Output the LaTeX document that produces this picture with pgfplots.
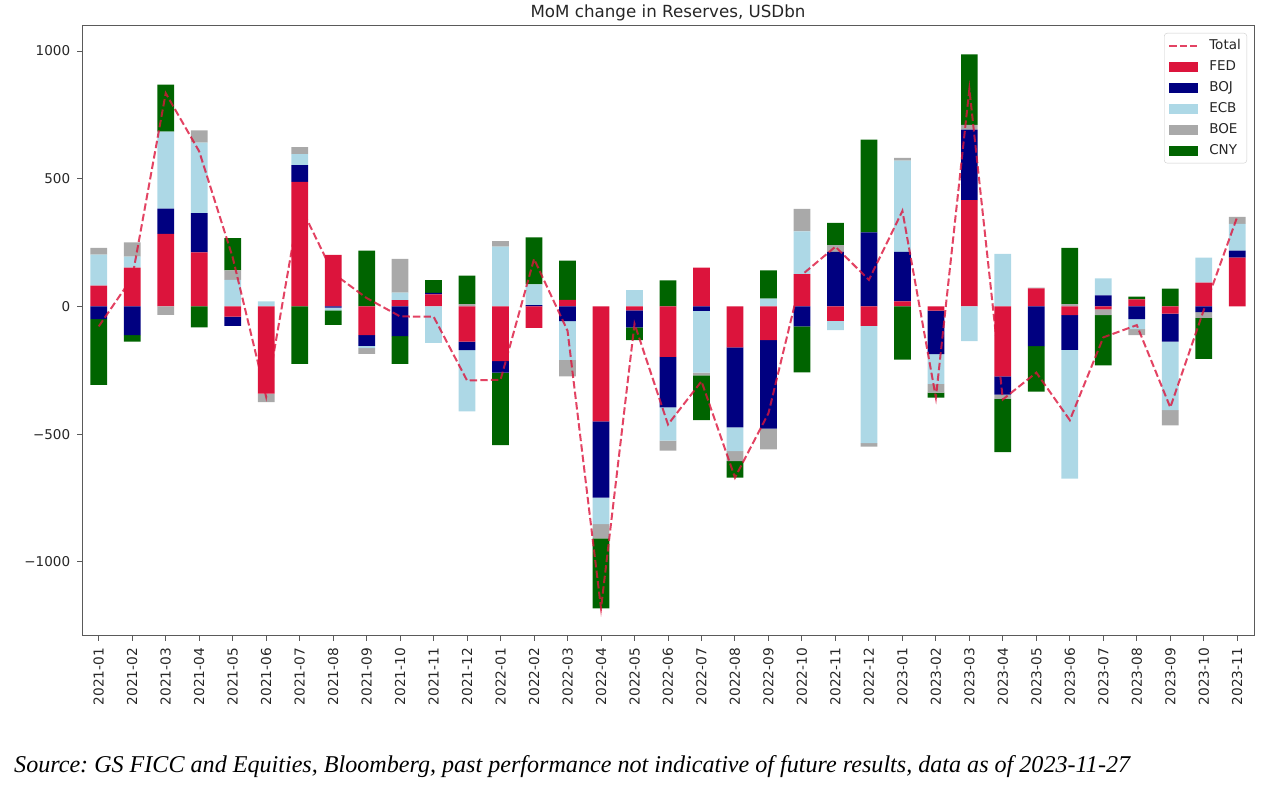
\documentclass[border=0pt]{standalone}
\usepackage{fontspec}
\setmainfont{DejaVu Sans}
\newfontfamily\srcfont{Liberation Serif}
\usepackage{pgfplots}
\usepackage{pgfplotstable}
\pgfplotsset{compat=1.18}
\definecolor{fedc}{RGB}{220,20,60}
\definecolor{bojc}{RGB}{0,0,128}
\definecolor{ecbc}{RGB}{173,216,230}
\definecolor{boec}{RGB}{169,169,169}
\definecolor{cnyc}{RGB}{0,100,0}
\definecolor{framec}{RGB}{90,90,90}

\pgfplotstableread{
idx FED BOJ ECB BOE CNY Total
0   82   -50   121   26  -257   -78
1   152  -112  43    56  -26    113
2   284  99    301   -33 184    835
3   212  153   276   48  -82    607
4   -40  -36   104   37  127    192
5   -341 0     20    -33 0      -354
6   488  65    43    28  -225   399
7   202  -5    -10   0   -57    130
8   -112 -42   -9    -23 219    33
9   25   -116  29    132 -109   -39
10  47   6     -143  0   50     -40
11  -138 -33   -240  9   112    -290
12  -214 -45   234   22  -284   -287
13  -84  5     81    0   184    186
14  26   -57   -152  -65 153    -95
15  -450 -298  -104  -56 -274   -1182
16  -15  -67   64    0   -50    -68
17  -197 -198  -130  -39 102    -462
18  152  -17   -242  -11 -175   -293
19  -160 -313  -93   -39 -65    -670
20  -132 -346  31    -81 110    -418
21  127  -78   167   88  -180   124
22  -56  214   -37   26  87     234
23  -76  290   -459  -14 363    104
24  20   194   357   11  -208   374
25  -16  -171  -116  -34 -20    -357
26  416  276   -136  19  276    851
27  -274 -71   206   -17 -208   -364
28  71   -155  0     3   -178   -259
29  -34  -136  -504  9   220    -445
30  -11  43    67    -23 -197   -121
31  28   -50   -39   -23 11     -73
32  -28  -110  -268  -59 70     -395
33  93   -22   98    -23 -160   -14
34  191  28    104   28  0      351
}\reserves

\pgfplotsset{
  base/.style={
    scale only axis, width=1172pt, height=610pt,
    at={(82pt,161pt)}, anchor=south west,
    xmin=-0.5, xmax=34.5, ymin=-1290, ymax=1098,
    enlargelimits=false,
  },
  bars/.style={base, hide axis, ybar stacked, bar width=0.5},
}

\begin{document}
\frenchspacing
\begin{tikzpicture}
\useasboundingbox (0,0) rectangle (1277pt,797pt);

% positive parts
\begin{axis}[bars]
\addplot[fill=fedc, draw=none] table[x=idx, y expr={max(\thisrow{FED},0)}] {\reserves};
\addplot[fill=bojc, draw=none] table[x=idx, y expr={max(\thisrow{BOJ},0)}] {\reserves};
\addplot[fill=ecbc, draw=none] table[x=idx, y expr={max(\thisrow{ECB},0)}] {\reserves};
\addplot[fill=boec, draw=none] table[x=idx, y expr={max(\thisrow{BOE},0)}] {\reserves};
\addplot[fill=cnyc, draw=none] table[x=idx, y expr={max(\thisrow{CNY},0)}] {\reserves};
\end{axis}

% negative parts
\begin{axis}[bars]
\addplot[fill=fedc, draw=none] table[x=idx, y expr={min(\thisrow{FED},0)}] {\reserves};
\addplot[fill=bojc, draw=none] table[x=idx, y expr={min(\thisrow{BOJ},0)}] {\reserves};
\addplot[fill=ecbc, draw=none] table[x=idx, y expr={min(\thisrow{ECB},0)}] {\reserves};
\addplot[fill=boec, draw=none] table[x=idx, y expr={min(\thisrow{BOE},0)}] {\reserves};
\addplot[fill=cnyc, draw=none] table[x=idx, y expr={min(\thisrow{CNY},0)}] {\reserves};
\end{axis}

% frame, ticks, total line, legend
\begin{axis}[base,
  axis line style={framec, line width=1pt},
  tick style={framec, line width=1pt},
  tick align=outside, tick pos=left,
  major tick length=4.7pt,
  xtick={0,...,34},
  xticklabels={2021-01,2021-02,2021-03,2021-04,2021-05,2021-06,2021-07,2021-08,2021-09,2021-10,2021-11,2021-12,2022-01,2022-02,2022-03,2022-04,2022-05,2022-06,2022-07,2022-08,2022-09,2022-10,2022-11,2022-12,2023-01,2023-02,2023-03,2023-04,2023-05,2023-06,2023-07,2023-08,2023-09,2023-10,2023-11},
  ytick={-1000,-500,0,500,1000},
  yticklabels={−1000,−500,0,500,1000},
  xticklabel shift=7pt,
  yticklabel shift=7pt,
  xticklabel style={rotate=90, anchor=east, inner sep=0pt, font=\fontsize{13.7}{16}\selectfont, text=black!85},
  yticklabel style={anchor=east, inner sep=0pt, font=\fontsize{13.5}{16}\selectfont, text=black!85},
  title={MoM change in Reserves, USDbn},
  title style={at={(0.5,1)}, anchor=base, yshift=2pt, inner sep=0pt, font=\fontsize{16.7}{19}\selectfont, text=black!85},
  legend cell align=left,
  legend style={at={(1,1)}, anchor=north east, xshift=-7pt, yshift=-7pt,
    draw=black!20, rounded corners=3pt, fill=white, inner sep=4pt,
    font=\fontsize{13.5}{16}\selectfont, text=black!85,
    row sep=4pt,
    nodes={text height=10pt, text depth=3pt, inner sep=2pt},
    /tikz/every odd column/.append style={column sep=9pt}},
]
\addplot[draw=fedc, draw opacity=0.8, line width=2pt, dash pattern=on 7.4pt off 3.2pt,
  legend image code/.code={\draw[sharp corners, fedc, opacity=0.8, line width=2pt, dash pattern=on 7.4pt off 3.2pt] (0pt,0pt) -- (28pt,0pt);}]
  table[x=idx, y=Total] {\reserves};
\addlegendentry{Total}
\addlegendimage{legend image code/.code={\fill[sharp corners, fedc] (0pt,-4.6pt) rectangle (28pt,4.6pt);}}
\addlegendentry{FED}
\addlegendimage{legend image code/.code={\fill[sharp corners, bojc] (0pt,-4.6pt) rectangle (28pt,4.6pt);}}
\addlegendentry{BOJ}
\addlegendimage{legend image code/.code={\fill[sharp corners, ecbc] (0pt,-4.6pt) rectangle (28pt,4.6pt);}}
\addlegendentry{ECB}
\addlegendimage{legend image code/.code={\fill[sharp corners, boec] (0pt,-4.6pt) rectangle (28pt,4.6pt);}}
\addlegendentry{BOE}
\addlegendimage{legend image code/.code={\fill[sharp corners, cnyc] (0pt,-4.6pt) rectangle (28pt,4.6pt);}}
\addlegendentry{CNY}
\end{axis}

\node[anchor=base west, inner sep=0pt, font=\srcfont\itshape\fontsize{24.1}{28}\selectfont] at (14pt,24pt)
  {Source: GS FICC and Equities, Bloomberg, past performance not indicative of future results, data as of 2023-11-27};
\end{tikzpicture}
\end{document}
